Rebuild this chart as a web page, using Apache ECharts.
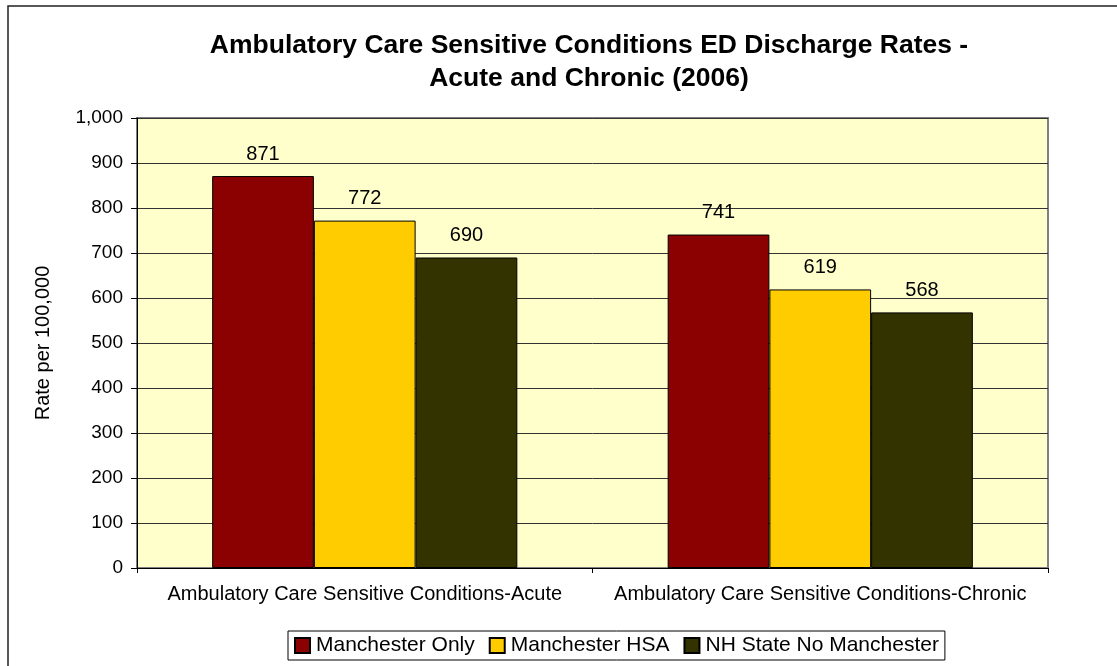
<!DOCTYPE html>
<html>
<head>
<meta charset="utf-8">
<script src="https://cdn.jsdelivr.net/npm/echarts@6/dist/echarts.min.js"></script>
<style>
  html, body { margin: 0; padding: 0; background: #fff; }
  #main { width: 1117px; height: 666px; }
</style>
</head>
<body>
<div id="main"></div>
<script>
// data
const categories = ['Ambulatory Care Sensitive Conditions-Acute', 'Ambulatory Care Sensitive Conditions-Chronic']
const seriesNames = ['Manchester Only', 'Manchester HSA', 'NH State No Manchester']
const manchesterOnly = [871, 741]
const manchesterHSA = [772, 619]
const nhStateNoManchester = [690, 568]
const yTicks = [0, 100, 200, 300, 400, 500, 600, 700, 800, 900, 1000]

const colors = ['#8B0000', '#FFCC00', '#333300']
const font = "'Liberation Sans', Arial, sans-serif"

const chart = echarts.init(document.getElementById('main'))

const makeSeries = (name, data, i) => ({
  name: name,
  type: 'bar',
  data: data,
  barGap: '0%',
  barCategoryGap: '33%',
  itemStyle: { color: colors[i], borderColor: '#000', borderWidth: 1 },
  label: {
    show: true,
    position: 'top',
    distance: 12,
    color: '#000',
    fontFamily: font,
    fontSize: 20
  }
})

const option = {
  animation: false,
  textStyle: { fontFamily: font },
  title: {
    text: 'Ambulatory Care Sensitive Conditions ED Discharge Rates -\nAcute and Chronic (2006)',
    left: 584,
    textAlign: 'center',
    top: 24,
    textStyle: { fontFamily: font, fontSize: 26.5, fontWeight: 'bold', color: '#000', lineHeight: 33 }
  },
  graphic: [{
    type: 'rect',
    shape: { x: 8, y: 6, width: 1130, height: 700 },
    style: { fill: 'none', stroke: '#222', lineWidth: 1.5 },
    silent: true,
    z: 100
  }],
  legend: {
    data: seriesNames,
    bottom: 6,
    left: 288,
    itemWidth: 15,
    itemHeight: 15,
    itemGap: 14,
    borderColor: '#000',
    borderWidth: 1,
    padding: [4, 6],
    icon: 'rect',
    textStyle: { fontFamily: font, fontSize: 21, color: '#000', padding: [0, 0, 0, 1] }
  },
  grid: {
    left: 137,
    right: 69,
    top: 118,
    bottom: 98,
    show: true,
    backgroundColor: '#FFFFCC',
    borderColor: '#808080',
    borderWidth: 2
  },
  xAxis: {
    type: 'category',
    data: categories,
    axisLine: { lineStyle: { color: '#000', width: 1 } },
    axisTick: { show: true, length: 5, lineStyle: { color: '#000' } },
    axisLabel: { color: '#000', fontSize: 20, fontFamily: font, margin: 16, interval: 0 }
  },
  yAxis: {
    type: 'value',
    min: yTicks[0],
    max: yTicks[yTicks.length - 1],
    interval: 100,
    name: 'Rate per 100,000',
    nameLocation: 'middle',
    nameGap: 84,
    nameTextStyle: { color: '#000', fontSize: 20, fontFamily: font },
    axisLine: { show: true, lineStyle: { color: '#000', width: 1 } },
    axisTick: { show: true, length: 6, lineStyle: { color: '#000' } },
    axisLabel: {
      color: '#000',
      fontSize: 19,
      fontFamily: font,
      margin: 14,
      formatter: v => v.toLocaleString('en-US')
    },
    splitLine: { show: true, lineStyle: { color: '#333', width: 1 } }
  },
  series: [
    makeSeries(seriesNames[0], manchesterOnly, 0),
    makeSeries(seriesNames[1], manchesterHSA, 1),
    makeSeries(seriesNames[2], nhStateNoManchester, 2)
  ]
}

option && chart.setOption(option)
</script>
</body>
</html>
